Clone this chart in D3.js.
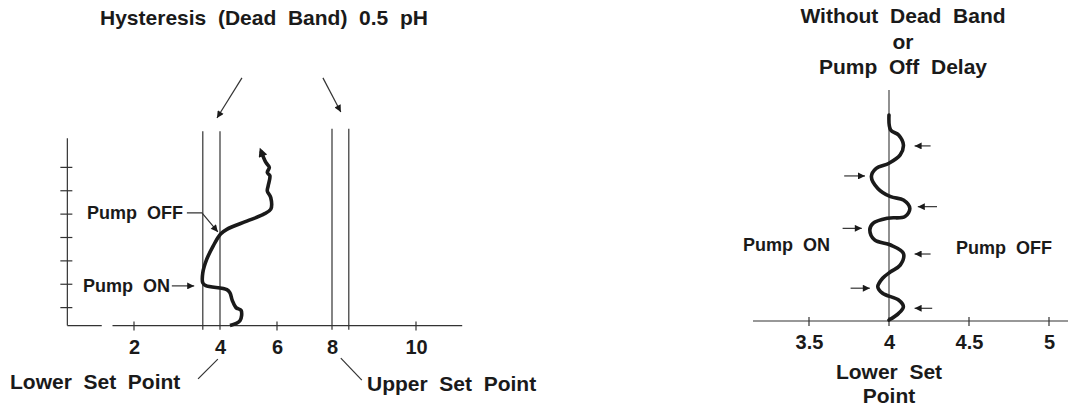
<!DOCTYPE html>
<html>
<head>
<meta charset="utf-8">
<script src="https://cdn.jsdelivr.net/npm/d3@7"></script>
<style>
  body { margin: 0; background: #fff; }
  svg { display: block; }
  text { font-family: "Liberation Sans", Arial, sans-serif; font-weight: bold; fill: #1a1a1a; white-space: pre; }
  .thin { stroke: #333; stroke-width: 1.2; fill: none; }
</style>
</head>
<body>
<svg id="chart"></svg>
<script>
// chart size
var svgWidth = 1068;
var svgHeight = 408;

// ---- left panel: hysteresis ----
var leftTickLabels = [2, 4, 6, 8, 10];
var leftTickMarks = [2, 6, 10];
var leftYTicks = [1, 2, 3, 4, 5, 6, 7];
var lowerBand = [3.6, 4.0];
var upperBand = [8.0, 8.4];
// pH reading over time (t)
var leftPh = [4.35, 4.70, 4.74, 4.56, 4.43, 4.35, 4.24, 3.67, 3.60, 3.60, 3.69, 3.84, 4.02, 4.24, 4.94, 5.52, 5.78, 5.78, 5.66, 5.69, 5.75, 5.66, 5.73, 5.61, 5.44];
var leftT  = [0.24, 0.44, 0.88, 1.00, 1.31, 1.63, 1.77, 1.94, 2.06, 2.49, 3.06, 3.63, 4.15, 4.35, 4.70, 4.99, 5.21, 5.71, 5.99, 6.21, 6.64, 6.78, 7.00, 7.21, 7.70];

// ---- right panel: without dead band ----
var rightTickLabels = [3.5, 4, 4.5, 5];
var rightSetPoint = 4;
var rightPh = [4.00, 4.01, 4.06, 4.09, 4.07, 4.00, 3.92, 3.89, 3.93, 4.01, 4.09, 4.13, 4.10, 3.99, 3.90, 3.88, 3.91, 4.01, 4.09, 4.07, 4.01, 3.96, 3.93, 3.96, 4.06, 4.09, 4.06, 4.00];
var rightT  = [8.92, 8.27, 8.05, 7.62, 7.19, 6.83, 6.61, 6.25, 5.74, 5.38, 5.24, 4.88, 4.52, 4.45, 4.23, 3.94, 3.51, 3.29, 2.93, 2.42, 2.13, 1.85, 1.48, 1.20, 0.91, 0.62, 0.33, 0.04];
// small arrows pointing at each swing
var swingT    = [7.58, 6.28, 4.95, 4.01, 2.90, 1.42, 0.55];
var swingFrom = [4.26, 3.72, 4.30, 3.71, 4.26, 3.76, 4.27];
var swingTo   = [4.16, 3.85, 4.18, 3.83, 4.16, 3.88, 4.16];

var svg = d3.select("#chart")
    .attr("width", svgWidth)
    .attr("height", svgHeight);

var defs = svg.append("defs");
defs.append("marker")
    .attr("id", "tip")
    .attr("viewBox", "0 0 10 10")
    .attr("refX", 10).attr("refY", 5)
    .attr("markerWidth", 9).attr("markerHeight", 7)
    .attr("markerUnits", "userSpaceOnUse")
    .attr("orient", "auto")
    .append("path").attr("d", "M0,0L10,5L0,10Z").attr("fill", "#1a1a1a");
defs.append("marker")
    .attr("id", "bigtip")
    .attr("viewBox", "0 0 10 10")
    .attr("refX", 6).attr("refY", 5)
    .attr("markerWidth", 14).attr("markerHeight", 9)
    .attr("markerUnits", "userSpaceOnUse")
    .attr("orient", "auto")
    .append("path").attr("d", "M0,0L10,5L0,10Z").attr("fill", "#1a1a1a");

// ================= LEFT =================
var xL = d3.scaleLinear().domain([2, 4, 6, 8, 10]).range([134, 220, 277, 332, 416]);
var yL = d3.scaleLinear().domain([0, 8]).range([331, 144]);
var xL0 = 0.45, xL1 = 11.1, yL0 = 0.23, yL1 = 8.25;

var left = svg.append("g");

left.append("text")
    .attr("x", 264)
    .attr("y", 25)
    .attr("text-anchor", "middle")
    .style("font-size", "21px")
    .text("Hysteresis  (Dead  Band)  0.5  pH");

// x axis with a break near the origin
left.append("line").attr("class", "thin")
    .attr("x1", xL(xL0)).attr("x2", xL(1.25))
    .attr("y1", yL(yL0)).attr("y2", yL(yL0));
left.append("line").attr("class", "thin")
    .attr("x1", xL(1.5)).attr("x2", xL(xL1))
    .attr("y1", yL(yL0)).attr("y2", yL(yL0));
left.selectAll(".xtick").data(leftTickMarks).enter().append("line")
    .attr("class", "thin")
    .attr("x1", d => xL(d)).attr("x2", d => xL(d))
    .attr("y1", yL(yL0) - 4).attr("y2", yL(yL0) + 5);

var xAxisL = d3.axisBottom(xL).tickValues(leftTickLabels).tickSize(0).tickPadding(14);
var gx = left.append("g").attr("transform", "translate(0," + yL(yL0) + ")").call(xAxisL);
gx.select(".domain").remove();
gx.selectAll("text").attr("font-family", null).style("font-size", "20px").attr("fill", "#1a1a1a");

// y axis
left.append("line").attr("class", "thin")
    .attr("x1", xL(xL0)).attr("x2", xL(xL0))
    .attr("y1", yL(yL0)).attr("y2", yL(yL1));
left.selectAll(".ytick").data(leftYTicks).enter().append("line")
    .attr("class", "thin")
    .attr("x1", xL(xL0) - 7).attr("x2", xL(xL0) + 5)
    .attr("y1", d => yL(d)).attr("y2", d => yL(d));

// dead band lines
left.selectAll(".band").data(lowerBand.concat(upperBand)).enter().append("line")
    .attr("class", "thin")
    .attr("x1", d => xL(d)).attr("x2", d => xL(d))
    .attr("y1", (d, i) => yL(i < 2 ? 8.55 : 8.65))
    .attr("y2", yL(0.05));

// band pointer arrows
left.append("line").attr("class", "thin").attr("marker-end", "url(#tip)")
    .attr("x1", xL(4.77)).attr("y1", yL(10.83)).attr("x2", xL(3.93)).attr("y2", yL(9.11));
left.append("line").attr("class", "thin").attr("marker-end", "url(#tip)")
    .attr("x1", xL(7.67)).attr("y1", yL(10.83)).attr("x2", xL(8.21)).attr("y2", yL(9.37));

// pH curve
var leftData = leftPh.map((d, i) => [d, leftT[i]]);
left.append("path")
    .datum(leftData)
    .attr("fill", "none")
    .attr("stroke", "#1a1a1a")
    .attr("stroke-width", 3.6)
    .attr("stroke-linejoin", "round")
    .attr("marker-end", "url(#bigtip)")
    .attr("d", d3.line().x(d => xL(d[0])).y(d => yL(d[1])).curve(d3.curveCatmullRom.alpha(0.5)));

// Pump OFF / ON notes
left.append("text").attr("x", xL(3.14)).attr("y", yL(4.79))
    .attr("text-anchor", "end").style("font-size", "18px").text("Pump  OFF");
left.append("path").attr("class", "thin").attr("marker-end", "url(#tip)")
    .attr("d", d3.line()([[xL(3.23), yL(5.05)], [xL(3.58), yL(5.05)], [xL(3.95), yL(4.24)]]));
left.append("text").attr("x", xL(2.84)).attr("y", yL(1.68))
    .attr("text-anchor", "end").style("font-size", "18px").text("Pump  ON");
left.append("line").attr("class", "thin").attr("marker-end", "url(#tip)")
    .attr("x1", xL(2.88)).attr("y1", yL(1.93)).attr("x2", xL(3.40)).attr("y2", yL(1.93));

// set point labels
left.append("line").attr("class", "thin")
    .attr("x1", xL(3.49)).attr("y1", yL(-2.05)).attr("x2", xL(3.95)).attr("y2", yL(-1.2));
left.append("text").attr("x", 10).attr("y", 389)
    .style("font-size", "21px").text("Lower  Set  Point");
left.append("line").attr("class", "thin")
    .attr("x1", xL(8.21)).attr("y1", yL(-1.16)).attr("x2", xL(8.71)).attr("y2", yL(-2.1));
left.append("text").attr("x", 367).attr("y", 391)
    .style("font-size", "21px").text("Upper  Set  Point");

// ================= RIGHT =================
var xR = d3.scaleLinear().domain([3.5, 5]).range([809, 1049]);
var yR = d3.scaleLinear().domain([0, 10]).range([321, 90]);
var xR0 = 3.15, xR1 = 5.2;

var right = svg.append("g");

right.selectAll(".title").data(["Without  Dead  Band", "or", "Pump  Off  Delay"]).enter().append("text")
    .attr("x", 903)
    .attr("y", (d, i) => 23 + i * 25.7)
    .attr("text-anchor", "middle")
    .style("font-size", "21px")
    .text(d => d);

right.append("line").attr("class", "thin")
    .attr("x1", xR(xR0)).attr("x2", xR(xR1))
    .attr("y1", yR(0)).attr("y2", yR(0));
right.selectAll(".xtick").data(rightTickLabels).enter().append("line")
    .attr("class", "thin")
    .attr("x1", d => xR(d)).attr("x2", d => xR(d))
    .attr("y1", yR(0) - 4).attr("y2", yR(0) + 5);
var xAxisR = d3.axisBottom(xR).tickValues(rightTickLabels).tickFormat(d3.format("")).tickSize(0).tickPadding(14);
var gxR = right.append("g").attr("transform", "translate(0," + yR(0) + ")").call(xAxisR);
gxR.select(".domain").remove();
gxR.selectAll("text").attr("font-family", null).style("font-size", "20px").attr("fill", "#1a1a1a");

right.append("line")
    .attr("stroke", "#555").attr("stroke-width", 1.3)
    .attr("x1", xR(rightSetPoint)).attr("x2", xR(rightSetPoint))
    .attr("y1", yR(0)).attr("y2", yR(10));

var rightData = rightPh.map((d, i) => [d, rightT[i]]);
right.append("path")
    .datum(rightData)
    .attr("fill", "none")
    .attr("stroke", "#1a1a1a")
    .attr("stroke-width", 3.6)
    .attr("stroke-linecap", "round")
    .attr("d", d3.line().x(d => xR(d[0])).y(d => yR(d[1])).curve(d3.curveCatmullRom.alpha(0.5)));

right.selectAll(".swing").data(swingT).enter().append("line")
    .attr("class", "thin")
    .attr("marker-end", "url(#tip)")
    .attr("x1", (d, i) => xR(swingFrom[i])).attr("x2", (d, i) => xR(swingTo[i]))
    .attr("y1", d => yR(d)).attr("y2", d => yR(d));

right.append("text").attr("x", 743).attr("y", 251)
    .style("font-size", "18px").text("Pump  ON");
right.append("text").attr("x", 956).attr("y", 254)
    .style("font-size", "18px").text("Pump  OFF");

right.selectAll(".setpt").data(["Lower  Set", "Point"]).enter().append("text")
    .attr("x", 889)
    .attr("y", (d, i) => 379 + i * 24)
    .attr("text-anchor", "middle")
    .style("font-size", "21px")
    .text(d => d);
</script>
</body>
</html>
